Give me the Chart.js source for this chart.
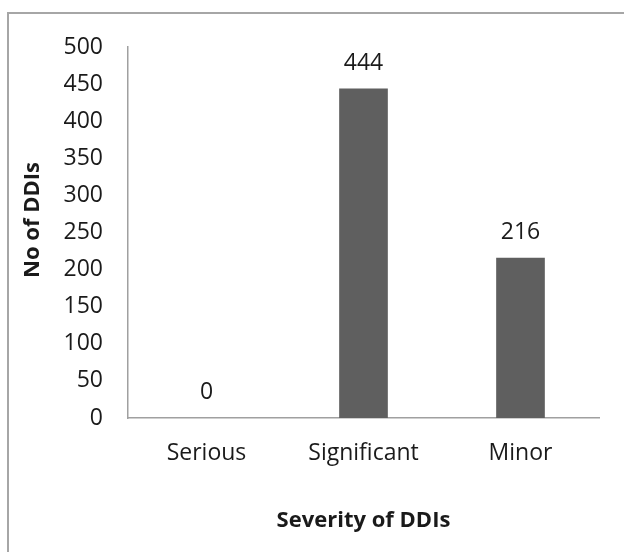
<!DOCTYPE html>
<html lang="en">
<head>
  <meta charset="UTF-8">
  <title>Severity of DDIs</title>
  <style>
    html, body { margin: 0; padding: 0; background: #fff; }
    #wrap { position: relative; width: 624px; height: 552px; }
  </style>
</head>
<body>
  <div id="wrap">
    <canvas id="grafico" width="624" height="552"></canvas>
  </div>

  <script src="https://cdn.jsdelivr.net/npm/chart.js"></script>
  <script>
    // datos del gráfico
    const categorias = ['Serious', 'Significant', 'Minor'];
    const valores = [0, 444, 216];
    const yMin = 0;
    const yMax = 500;
    const yPaso = 50;

    const fuente = "'Open Sans', sans-serif";

    // marco gris (solo izquierda y arriba) + etiquetas de valor + título Y
    const extras = {
      id: 'extras',
      beforeDraw(chart) {
        const ctx = chart.ctx;
        ctx.save();
        ctx.strokeStyle = '#a6a6a6';
        ctx.lineWidth = 2;
        ctx.beginPath();
        ctx.moveTo(8, 552);
        ctx.lineTo(8, 13);
        ctx.lineTo(624, 13);
        ctx.stroke();
        ctx.restore();
      },
      afterDatasetsDraw(chart) {
        const ctx = chart.ctx;
        const meta = chart.getDatasetMeta(0);
        ctx.save();
        ctx.font = '23px ' + fuente;
        ctx.fillStyle = '#1a1a1a';
        ctx.textAlign = 'center';
        ctx.textBaseline = 'alphabetic';
        meta.data.forEach((bar, i) => {
          ctx.fillText(String(valores[i]), bar.x, bar.y - 19);
        });

        // título eje Y
        ctx.font = 'bold 22px ' + fuente;
        ctx.textBaseline = 'middle';
        ctx.translate(33, 220);
        ctx.rotate(-Math.PI / 2);
        ctx.fillText('No of DDIs', 0, 0);
        ctx.restore();
      }
    };

    const lienzo = document.getElementById('grafico');
    const grafico = new Chart(lienzo, {
      type: 'bar',
      data: {
        labels: categorias,
        datasets: [{
          data: valores,
          backgroundColor: '#5f5f5f',
          borderWidth: 0,
          barPercentage: 0.31,
          categoryPercentage: 1
        }]
      },
      options: {
        responsive: false,
        animation: false,
        events: [],
        layout: { padding: { left: 0, top: 47, right: 25, bottom: 0 } },
        plugins: {
          legend: { display: false },
          tooltip: { enabled: false }
        },
        scales: {
          x: {
            afterFit(scale) { scale.height = 134; },
            grid: { display: false, drawTicks: false },
            border: { display: true, color: '#a0a0a0', width: 1.5 },
            ticks: {
              color: '#1a1a1a',
              font: { family: fuente, size: 23 },
              padding: 22
            },
            title: {
              display: true,
              text: 'Severity of DDIs',
              color: '#1a1a1a',
              font: { family: fuente, size: 22, weight: 'bold' },
              padding: { top: 0, bottom: 18 }
            }
          },
          y: {
            min: yMin,
            max: yMax,
            afterFit(scale) { scale.width = 128; },
            grid: { display: false, drawTicks: false },
            border: { display: true, color: '#a0a0a0', width: 1.5 },
            ticks: {
              stepSize: yPaso,
              color: '#1a1a1a',
              font: { family: fuente, size: 23 },
              padding: 25
            }
          }
        }
      },
      plugins: [extras]
    });
  </script>
</body>
</html>
